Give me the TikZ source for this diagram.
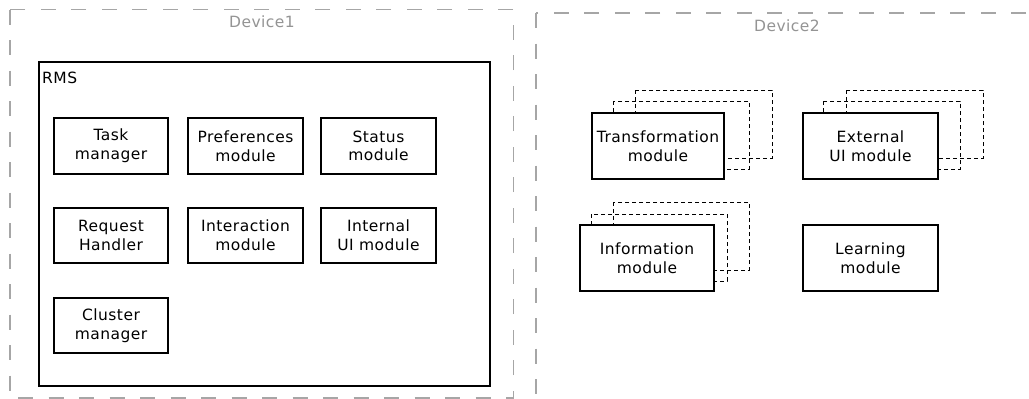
\documentclass[tikz,border=0pt]{standalone}
\usepackage{fontspec}
\setmainfont{DejaVu Sans}[LetterSpace=3]
\begin{document}
\begin{tikzpicture}[x=1pt,y=-1pt,
  devframe/.style={draw=black!35,line width=1.1pt,dash pattern=on 15pt off 15.5pt},
  devlabel/.style={text=black!42,font=\fontsize{15.5}{18.7}\selectfont,inner sep=0pt},
  txt/.style={font=\fontsize{15.5}{18.7}\selectfont,align=center,inner sep=0pt},
  modbox/.style={draw=black,line width=1.1pt,fill=white,rectangle},
  ghost/.style={draw=black,line width=0.9pt,dash pattern=on 4pt off 3pt}]
\useasboundingbox (0,0) rectangle (1029,399);
\clip (0,0) rectangle (1029,399);
\fill[white] (0,0) rectangle (1029,399);

% device frames
\draw[devframe] (10,9.5) rectangle (513.5,398);
\draw[devframe] (536,13) rectangle (1045,420);
\node[devlabel] (dev1) at (262,22) {Device1};
\node[devlabel] (dev2) at (787,26) {Device2};

% RMS container
\draw[modbox] (39,62) rectangle (490,386);
\node[txt,anchor=base west] (rms) at (42,83) {RMS};

% RMS modules
\draw[modbox] (54,118) rectangle (168,174);
\node[txt] (task) at (111,146) {Task\\manager};
\draw[modbox] (188,118) rectangle (303,174);
\node[txt] (pref) at (245.5,146) {Preferences\\module};
\draw[modbox] (321,118) rectangle (436,174);
\node[txt] (status) at (378.5,146) {Status\\module};
\draw[modbox] (54,208) rectangle (168,263);
\node[txt] (req) at (111,235.5) {Request\\Handler};
\draw[modbox] (188,208) rectangle (303,263);
\node[txt] (inter) at (245.5,235.5) {Interaction\\module};
\draw[modbox] (321,208) rectangle (436,263);
\node[txt] (intui) at (378.5,235.5) {Internal\\UI module};
\draw[modbox] (54,298) rectangle (168,353);
\node[txt] (clus) at (111,325.5) {Cluster\\manager};

% Device2 modules: replicated ones with dashed copies behind
\draw[ghost] (635,90) rectangle (772,158);
\draw[ghost] (613,101) rectangle (749,169);
\draw[modbox] (592,113) rectangle (724,179);
\node[txt] (trans) at (658,146) {Transformation\\module};

\draw[ghost] (846,90) rectangle (983,158);
\draw[ghost] (823,101) rectangle (960,169);
\draw[modbox] (803,113) rectangle (938,179);
\node[txt] (extui) at (870.5,146) {External\\UI module};

\draw[ghost] (613,202) rectangle (749,270);
\draw[ghost] (591,214) rectangle (727,281);
\draw[modbox] (580,225) rectangle (714,291);
\node[txt] (info) at (647,258) {Information\\module};

\draw[modbox] (803,225) rectangle (938,291);
\node[txt] (learn) at (870.5,258) {Learning\\module};
\end{tikzpicture}
\end{document}
